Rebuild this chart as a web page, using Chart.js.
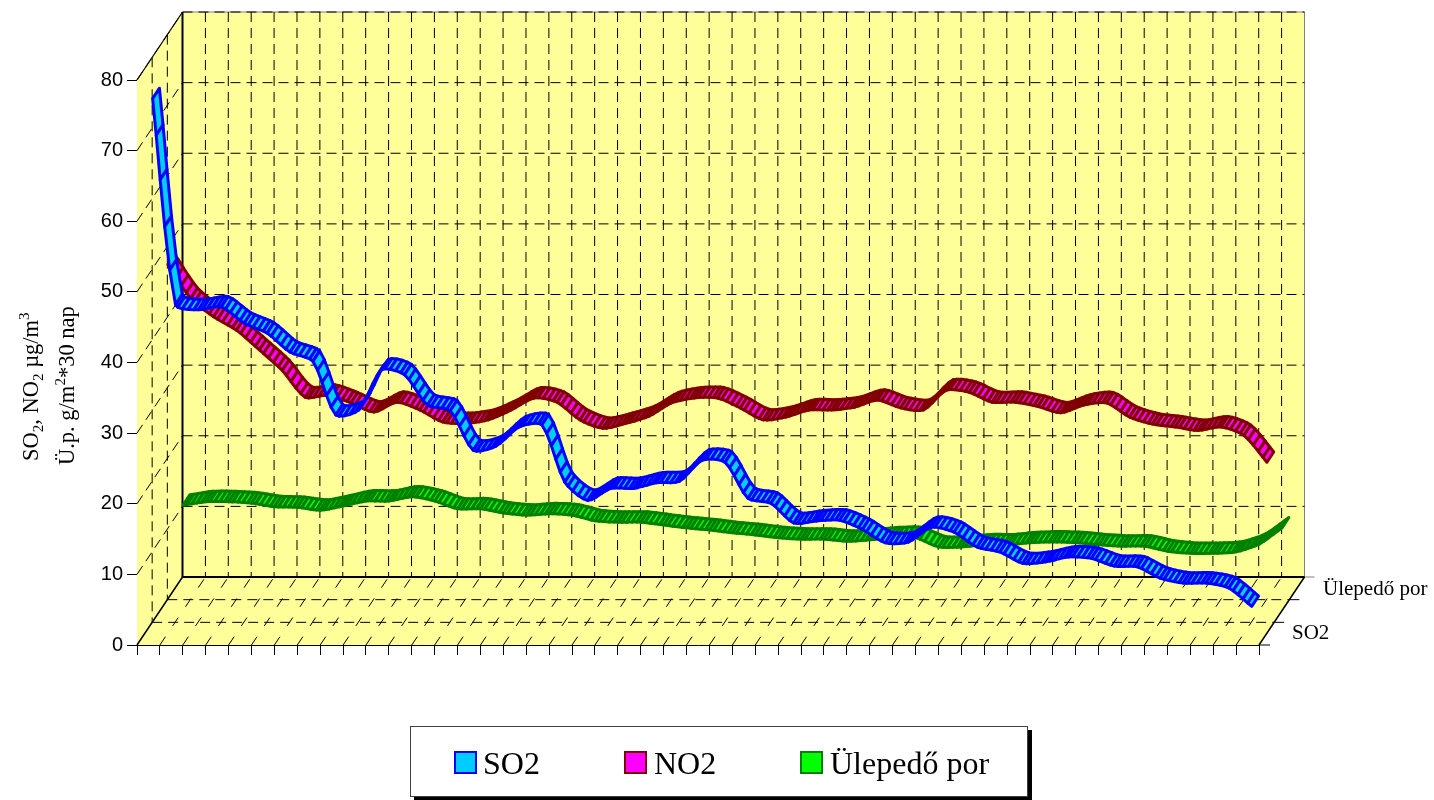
<!DOCTYPE html>
<html><head><meta charset="utf-8">
<style>html,body{margin:0;padding:0;background:#fff}canvas{display:block}</style>
<script src="https://cdn.jsdelivr.net/npm/chart.js@4"></script>
</head><body><canvas id="c" width="1434" height="800"></canvas>
<script>
const categories = [1,2,3,4,5,6,7,8,9,10,11,12,13,14,15,16,17,18,19,20,21,22,23,24,25,26,27,28,29,30,31,32,33,34,35,36,37,38,39,40,41,42,43,44,45,46,47,48,49];
const so2 = [76.5,47.3,46.6,47.0,44.7,43.3,40.6,39.3,31.7,32.4,38.1,37.4,33.1,32.3,26.7,27.3,30.0,30.3,22.2,19.6,21.3,21.3,22.1,22.3,25.3,25.0,19.9,19.2,16.4,16.7,16.8,15.5,13.6,13.7,15.8,15.1,13.0,12.3,10.7,10.9,11.6,11.4,10.3,10.2,8.6,7.9,7.9,7.2,4.6];
const no2 = [49.8,45.0,42.4,40.5,37.7,34.8,31.0,31.3,30.2,28.9,30.3,29.2,27.5,27.3,27.8,29.2,30.9,30.3,27.8,26.6,27.3,28.3,30.2,30.9,30.9,29.5,27.8,28.2,29.2,29.2,29.6,30.6,29.5,29.2,32.0,31.7,30.3,30.3,29.7,28.8,29.9,30.2,28.2,27.2,26.8,26.3,26.8,25.6,21.8];
const por = [12.5,13.0,13.0,12.8,12.3,12.2,11.8,12.4,13.1,13.1,13.7,13.1,12.0,12.0,11.4,11.1,11.3,11.1,10.3,10.1,10.1,9.7,9.3,9.0,8.6,8.3,7.9,7.7,7.7,7.4,7.6,7.9,7.9,6.6,6.6,6.9,6.9,7.2,7.3,7.2,6.9,6.7,6.7,6.0,5.7,5.7,5.9,7.0,9.3];
const seriesNames = ['SO2','NO2','Ülepedő por'];
const depthLabels = ['SO2','Ülepedő por'];
const yTicks = [0,10,20,30,40,50,60,70,80];
const edgeColors = ['#0000ff','#800000','#008000'];
const fillColors = ['#00ccff','#ff00ff','#00ff00'];

const DX = 45.5, DY = 68, SERIF = '"Liberation Serif"', SANS = '"Liberation Sans"';

function dashed(ctx, x0, y0, x1, y1, pat){
  ctx.save(); ctx.setLineDash(pat||[10,6]); ctx.lineWidth = 1; ctx.strokeStyle = '#000';
  ctx.beginPath(); ctx.moveTo(x0,y0); ctx.lineTo(x1,y1); ctx.stroke(); ctx.restore();
}
function solid(ctx, x0, y0, x1, y1, w, col){
  ctx.save(); ctx.lineWidth = w; ctx.strokeStyle = col||'#000';
  ctx.beginPath(); ctx.moveTo(x0,y0); ctx.lineTo(x1,y1); ctx.stroke(); ctx.restore();
}

const walls = {
  id: 'walls',
  beforeDatasetsDraw(chart){
    const {ctx, chartArea:a, scales:{x,y}} = chart;
    const l=a.left, r=a.right, t=a.top, b=a.bottom;
    ctx.save();
    ctx.fillStyle = '#ffff99';
    ctx.beginPath(); ctx.moveTo(l,t); ctx.lineTo(l+DX,t-DY); ctx.lineTo(r+DX,t-DY); ctx.lineTo(r+DX,b-DY); ctx.lineTo(r,b); ctx.lineTo(l,b); ctx.closePath(); ctx.fill();
    solid(ctx,l+DX,t-DY,r+DX,t-DY,1,'#808080');
    solid(ctx,r+DX,t-DY,r+DX,b-DY,1,'#808080');
    yTicks.forEach(v=>{
      const py=y.getPixelForValue(v);
      if(v>0){ dashed(ctx,l+DX,py-DY,r+DX,py-DY); dashed(ctx,l,py,l+DX,py-DY); }
    });
    const n=categories.length, step=(r-l)/n;
    for(let i=1;i<=n;i++){
      const px=l+i*step;
      if(i<n) dashed(ctx,px+DX,t-DY,px+DX,b-DY);
      if(i<n) dashed(ctx,px,b,px+DX,b-DY,[10,13]);
    }
    [1,2].forEach(k=>{
      const f=k/3;
      dashed(ctx,l+DX*f,t-DY*f,l+DX*f,b-DY*f);
      dashed(ctx,l+DX*f,b-DY*f,r+DX*f,b-DY*f);
      solid(ctx,r+DX*f,b-DY*f,r+DX*f+10,b-DY*f,1,'#000');
    });
    solid(ctx,r,b,r+11,b,1,'#000');
    solid(ctx,r+DX,b-DY,r+DX+10,b-DY,1,'#808080');
    solid(ctx,l,t,l+DX,t-DY,1.2);
    solid(ctx,l+DX,t-DY,l+DX,b-DY,2);
    solid(ctx,l+DX,b-DY,r+DX,b-DY,2);
    solid(ctx,l,b,l+DX,b-DY,1.5);
    solid(ctx,r,b,r+DX,b-DY,1.5);
    ctx.restore();

    ctx.save();
    ctx.fillStyle='#000'; ctx.font='21px '+SERIF; ctx.textBaseline='alphabetic'; ctx.textAlign='left';
    ctx.fillText(depthLabels[0], r+33, b-6);
    ctx.fillText(depthLabels[1], r+64, b-50);
    ctx.restore();

    const lines=[
      {x:38, y:461, runs:[['SO',22.5,0],['2',15,-5],[', NO',22.5,0],['2',15,-5],[' µg/m',22.5,0],['3',15,9]]},
      {x:74, y:465, runs:[['Ü.p. g/m',22.5,0],['2',15,9],['*30 nap',22.5,0]]}
    ];
    lines.forEach(li=>{
      ctx.save(); ctx.translate(li.x,li.y); ctx.rotate(-Math.PI/2);
      ctx.fillStyle='#000'; ctx.textAlign='left'; ctx.textBaseline='alphabetic';
      let cx=0;
      li.runs.forEach(([s,size,off])=>{ ctx.font=size+'px '+SERIF; ctx.fillText(s,cx,-off); cx+=ctx.measureText(s).width; });
      ctx.restore();
    });

    ctx.save();
    ctx.fillStyle='#000'; ctx.fillRect(414,730,618,71);
    ctx.fillStyle='#fff'; ctx.fillRect(410,726,618,71);
    ctx.strokeStyle='#404040'; ctx.lineWidth=1; ctx.strokeRect(410.5,726.5,617,70);
    const pos=[[455,483],[625,654],[801,830]];
    seriesNames.forEach((s,i)=>{
      ctx.fillStyle=fillColors[i]; ctx.strokeStyle=edgeColors[i]; ctx.lineWidth=2;
      ctx.fillRect(pos[i][0],752,21,21); ctx.strokeRect(pos[i][0],752,21,21);
      ctx.fillStyle='#000'; ctx.font='32px '+SERIF; ctx.textAlign='left'; ctx.textBaseline='alphabetic';
      ctx.fillText(s,pos[i][1],774);
    });
    ctx.restore();
  },
  beforeDatasetDraw(chart, args){
    const {ctx} = chart, i=args.index, meta=args.meta;
    const f=(i+0.5)/3, ox=DX*f, oy=-DY*f, hx=3.4, hy=5.2;
    meta.dataset.updateControlPoints(chart.chartArea,'x');
    const pts=meta.data, SUB=5, path=[];
    for(let k=0;k<pts.length-1;k++){
      const p=pts[k], q=pts[k+1];
      const c1x=p.cp2x, c1y=p.cp2y, c2x=q.cp1x, c2y=q.cp1y;
      for(let s=0;s<SUB;s++){
        const t=s/SUB, u=1-t;
        path.push([u*u*u*p.x+3*u*u*t*c1x+3*u*t*t*c2x+t*t*t*q.x, u*u*u*p.y+3*u*u*t*c1y+3*u*t*t*c2y+t*t*t*q.y]);
      }
    }
    const last=pts[pts.length-1]; path.push([last.x,last.y]);
    ctx.save();
    ctx.lineJoin='round'; ctx.lineWidth=3;
    ctx.fillStyle=fillColors[i]; ctx.strokeStyle=edgeColors[i];
    for(let k=0;k<path.length-1;k++){
      const [a,b]=path[k], [c,d]=path[k+1];
      ctx.beginPath();
      ctx.moveTo(a+ox-hx,b+oy+hy); ctx.lineTo(c+ox-hx,d+oy+hy);
      ctx.lineTo(c+ox+hx,d+oy-hy); ctx.lineTo(a+ox+hx,b+oy-hy); ctx.closePath();
      ctx.fill(); ctx.stroke();
    }
    ctx.restore();
  }
};

new Chart(document.getElementById('c'),{
  type:'line',
  plugins:[walls],
  data:{labels:categories,datasets:[so2,no2,por].map((d,i)=>({
    label:seriesNames[i],data:d,borderColor:edgeColors[i],backgroundColor:fillColors[i],
    borderWidth:0,pointRadius:0,pointHoverRadius:0,tension:0.25,fill:false
  }))},
  options:{
    responsive:false,animation:false,
    layout:{padding:{top:80,right:175,left:0,bottom:0}},
    plugins:{legend:{display:false},tooltip:{enabled:false},title:{display:false}},
    elements:{line:{capBezierPoints:false}},
    scales:{
      x:{type:'category',offset:true,
        afterFit(s){s.height=155;},
        grid:{offset:true,drawOnChartArea:false,drawTicks:true,tickLength:10,color:'#000'},
        border:{display:true,color:'#000',width:1},
        ticks:{display:false,autoSkip:false,maxRotation:0}},
      y:{type:'linear',min:0,max:80,
        afterFit(s){s.width=137;},
        grid:{drawOnChartArea:false,tickLength:10,color:'#000'},
        border:{display:true,color:'#000',width:1},
        ticks:{stepSize:10,color:'#000',padding:4,font:{family:SANS,size:20}}}
    }
  }
});
</script></body></html>
